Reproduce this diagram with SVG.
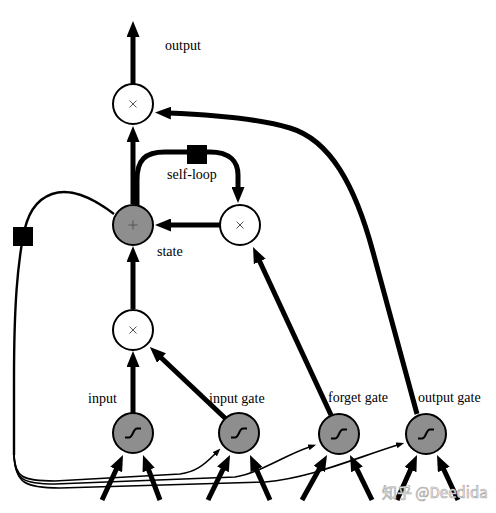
<svg xmlns="http://www.w3.org/2000/svg" width="496" height="513" viewBox="0 0 496 513">
<defs>
<style>
.thick{fill:none;stroke:#000;stroke-width:5;marker-end:url(#big)}
.thin{fill:none;stroke:#000;stroke-width:1.6;marker-end:url(#small)}
.wire{fill:none;stroke:#000;stroke-width:2.4}
.wn{fill:#fff;stroke:#000;stroke-width:2}
.gn{fill:#8e8e8e;stroke:#000;stroke-width:2}
.op{fill:none;stroke:#555;stroke-width:1}
.sig{fill:none;stroke:#000;stroke-width:2}
.lbl{font-family:"Liberation Serif",serif;font-size:14px;fill:#000}
</style>
<marker id="big" viewBox="0 0 16 13" markerWidth="16" markerHeight="13" refX="3" refY="6.5" orient="auto" markerUnits="userSpaceOnUse"><path d="M0,0 L16,6.5 L0,13 z" fill="#000"/></marker>
<marker id="small" viewBox="0 0 8 6" markerWidth="8" markerHeight="6" refX="1" refY="3" orient="auto" markerUnits="userSpaceOnUse"><path d="M0,0 L8,3 L0,6 z" fill="#000"/></marker>
<g id="sigmoid"><path class="sig" d="M-8,4.5 L-4,4.5 C0,4.5 0,-4.5 4,-4.5 L8,-4.5"/></g>
<g id="times"><path class="op" d="M-3.5,-3.5 L3.5,3.5 M-3.5,3.5 L3.5,-3.5"/></g>
</defs>
<rect width="496" height="513" fill="#fff"/>
<g id="connectors">
<path class="thick" d="M133,84 L133,34"/>
<path class="thick" d="M133,204 L133,139"/>
<path class="thick" d="M133,309 L133,259"/>
<path class="thick" d="M133,413 L133,364"/>
<path class="thick" d="M226,419 L159.3,356"/>
<path class="thick" d="M331,415 L258.5,258.8"/>
<path class="thick" d="M220,225 L168,225"/>
<path class="thick" d="M137,205 L137,180 C137,160 145,152 165,152 L210,152 C230,152 238,162 238,175 L238,190"/>
<path class="thick" d="M417,414 L373,252 C355,185 330,140 290,128 C260,119 220,115 168,113"/>
<path class="wire" d="M114,214 C90,196 70,188 52,194 C35,200 27,215 23,237 C18,265 14,300 14,380 L14,455"/>
<path class="thin" d="M14,455 C15,477 22,481 55,481 L180,474 C195,472 203,466 215.5,453.5"/>
<path class="thin" d="M14,455 C15,480 23,484 55,484 L235,477 C260,473 285,455 309.5,447"/>
<path class="thin" d="M14,455 C15,483 25,488 60,488 L265,482 C310,478 350,460 397.5,445"/>
<path class="thick" d="M102,500 L117.5,466.8"/>
<path class="thick" d="M160,500 L147.6,467.2"/>
<path class="thick" d="M208,500 L224.3,466.7"/>
<path class="thick" d="M270,500 L255.3,466.9"/>
<path class="thick" d="M302,500 L320.7,466.4"/>
<path class="thick" d="M372,500 L355.7,466.7"/>
<path class="thick" d="M397,500 L411.7,466.9"/>
<path class="thick" d="M458,500 L442.5,466.8"/>
<rect x="187" y="145" width="20" height="19" fill="#000"/>
<rect x="13" y="227" width="20" height="19" fill="#000"/>
</g>
<g id="output-gate-mult"><circle class="wn" cx="133" cy="104" r="20"/><use href="#times" x="133" y="104"/></g>
<g id="state"><circle class="gn" cx="133" cy="225" r="20"/><path class="op" d="M128.5,225 L137.5,225 M133,220.5 L133,229.5"/></g>
<g id="self-loop-mult"><circle class="wn" cx="240" cy="225" r="20"/><use href="#times" x="240" y="225"/></g>
<g id="input-mult"><circle class="wn" cx="133" cy="330" r="20"/><use href="#times" x="133" y="330"/></g>
<g id="input"><circle class="gn" cx="133" cy="433" r="20"/><use href="#sigmoid" x="133" y="433"/></g>
<g id="input-gate"><circle class="gn" cx="239" cy="433" r="20"/><use href="#sigmoid" x="239" y="433"/></g>
<g id="forget-gate"><circle class="gn" cx="339" cy="434" r="20"/><use href="#sigmoid" x="339" y="434"/></g>
<g id="output-gate"><circle class="gn" cx="426" cy="434" r="20"/><use href="#sigmoid" x="426" y="434"/></g>
<g id="labels">
<text class="lbl" x="165" y="50">output</text>
<text class="lbl" x="167" y="179">self-loop</text>
<text class="lbl" x="157" y="256">state</text>
<text class="lbl" x="88" y="403">input</text>
<text class="lbl" x="209" y="403">input gate</text>
<text class="lbl" x="328" y="402">forget gate</text>
<text class="lbl" x="418" y="402">output gate</text>
<text x="382" y="498" font-family="'Noto Sans CJK SC','Noto Sans',sans-serif" font-size="15" fill="#fff" stroke="#aaa" stroke-width="0.7">知乎 @Deedida</text>
</g>
</svg>
